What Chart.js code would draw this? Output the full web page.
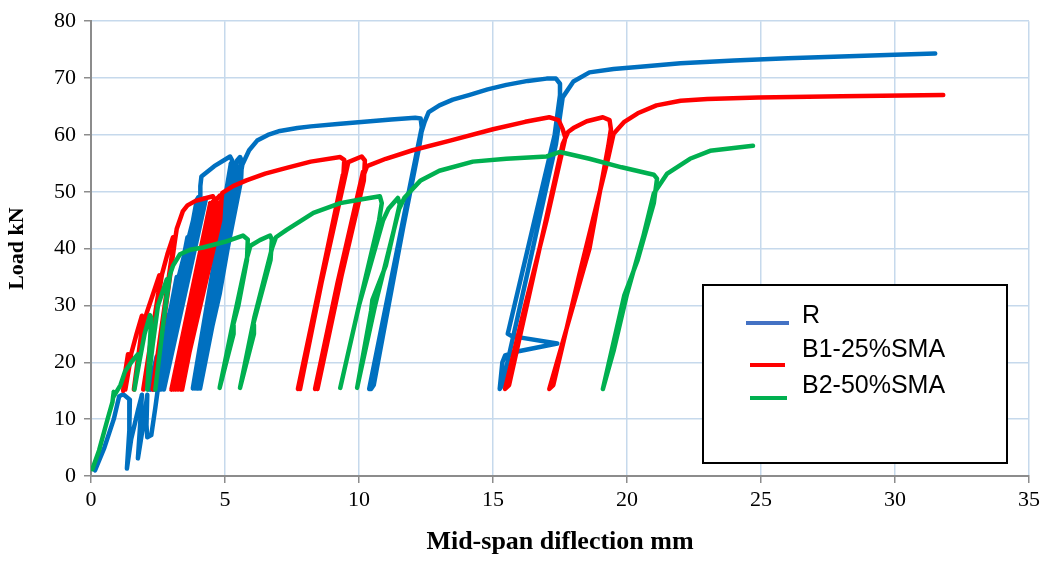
<!DOCTYPE html>
<html>
<head>
<meta charset="utf-8">
<script src="https://cdn.jsdelivr.net/npm/chart.js@4.4.1/dist/chart.umd.min.js"></script>
<style>
  body { margin: 0; background: #fff; }
  #wrap { width: 1046px; height: 562px; }
</style>
</head>
<body>
<div id="wrap"><canvas id="chart" width="1046" height="562"></canvas></div>
<script>
// series names
const seriesNames = ["R", "B1-25%SMA", "B2-50%SMA"];

// [deflection mm, load kN]
const rPoints = [
  [0.15,1],[0.5,5],[0.85,10],[1.05,14],[1.2,14.4],[1.45,13.4],[1.43,8],[1.34,1.3],
  [1.5,6.5],[1.75,11.5],[1.9,14.3],[1.82,8],[1.75,3.1],
  [1.95,9],[2.1,14.3],[2.07,9],[2.1,6.8],[2.25,7.2],[2.4,12],[2.5,15.5],
  [2.15,15.2],[2.45,21],[2.5,20.6],[2.3,15.2],[2.8,28],[2.85,27.6],[2.4,15.2],
  [3.2,35],[3.25,34.6],[2.5,15.2],[3.6,42],[3.65,41.6],[2.6,15.2],[3.3,32],
  [3.95,48.6],[4.0,49],[4.05,48.3],[2.2,15.2],[4.0,48.5],[2.35,15.2],[4.1,48.8],[2.5,15.2],
  [4.15,48.6],[2.62,15.2],[4.22,48.8],[2.72,15.2],[4.28,48.6],[2.55,15.2],[3.6,38],
  [4.07,49.2],[4.08,51],[4.12,52.7],[4.6,54.5],[5.19,56.2],[5.27,55.5],[5.2,52],
  [3.8,15.4],[5.22,55],[3.88,15.4],[5.3,55.2],[3.95,15.4],[4.5,32],[5.45,55.5],[5.56,56.1],
  [5.63,55.4],[5.6,52],[4.07,15.4],[5.55,54.5],[4.0,15.4],[4.8,32],
  [5.65,54.8],[5.9,57.3],[6.2,59],[6.6,60],[7.05,60.7],[7.7,61.2],[8.2,61.5],[9.2,61.9],
  [10.2,62.3],[11.2,62.7],[12.1,63],[12.3,62.9],[12.35,61],[12.25,58],[10.45,15.3],
  [10.55,16],[11.5,40],[12.3,60],[12.35,61.5],[12.2,58],[10.38,15.3],[10.5,16],[11.45,40],
  [12.3,60],[12.45,62.3],[12.6,64],[13.0,65.2],[13.5,66.2],[14.1,67],
  [14.8,68],[15.5,68.8],[16.3,69.5],[17.0,69.9],[17.35,69.9],[17.5,69],[17.5,67],[17.3,60],
  [16.5,44],[15.6,26],[15.55,25],[15.7,24.6],[17.4,23.3],[16.0,22],[15.45,21.2],[15.35,20],
  [15.25,15.3],[15.35,16],[16.3,36],[17.0,51],[17.35,58.4],[17.6,66.6],[18.0,69.4],[18.6,71],
  [19.5,71.6],[20.5,72],[22,72.6],[24,73.1],[26,73.5],[28,73.8],[30,74.1],[31.5,74.3]
];

const b1Points = [
  [1.2,15],[1.3,19],[1.38,21.4],[1.43,21],[1.28,15.2],[1.42,19],[1.5,21.5],[1.7,25],
  [1.9,28.2],[1.95,27.7],[1.6,15.2],[1.85,23],[2.0,27.5],[2.1,29],[2.35,32.5],[2.55,35.3],
  [2.6,34.8],[1.95,15.2],[2.3,25],[2.6,34],[2.65,35.5],[2.85,39],[3.06,42],[3.1,41.5],
  [2.3,15.2],[2.8,30],[3.12,41],[3.2,43.5],[3.43,46.6],[3.6,47.6],[3.9,48.4],[4.3,48.9],
  [4.55,49.2],[4.62,48.6],[4.55,45],[3.0,15.2],[4.45,48],[3.08,15.2],[4.55,48.3],[3.15,15.2],
  [3.8,33],[4.7,48.8],[4.8,49.3],[4.87,48.7],
  [4.82,45],[3.35,15.2],[4.75,48],[3.25,15.2],[4.7,47.8],[3.4,15.2],[4.1,32],[4.85,48],[4.9,49.8],[5.3,51],[5.8,52],[6.5,53.2],
  [7.3,54.2],[8.2,55.3],[9.3,56.1],[9.45,55.6],[9.42,53],[7.72,15.3],[8.6,35],[9.4,53],[7.8,15.3],[8.6,34],[9.6,55.2],
  [10.1,56.2],[10.22,55.5],[10.18,52],[8.36,15.3],[9.2,34],[10.15,53.5],[8.45,15.3],[9.25,33],[10.1,52],[10.3,54.5],[11.0,55.8],
  [12,57.3],[13.4,59],[15,61],[16.2,62.3],[17.1,63.1],[17.45,62.6],[17.6,61],[17.7,59.5],
  [17.0,45],[16.2,30],[15.45,15.3],[15.6,16],[16.5,35],[17.3,52],[17.6,58.4],[17.8,60.5],
  [18.0,61.2],[18.5,62.4],[19.1,63.1],[19.35,62.6],[19.4,61],[19.3,58],[18.6,40],[17.1,15.3],
  [17.25,16],[18.2,35],[19.3,56],[19.5,60.2],[19.9,62.3],[20.4,63.8],[21.1,65.2],[22,66],
  [23,66.3],[24.9,66.6],[28,66.8],[31.8,67]
];

const b2Points = [
  [0.05,1.2],[0.3,4.5],[0.63,10.2],[0.8,13],[0.85,14.8],[0.82,13.8],[0.95,14.8],[1.1,16],
  [1.27,18.4],[1.53,20.2],[1.75,21.4],[1.8,21],[1.62,15.2],[1.8,20],[2.0,25],[2.2,28.3],
  [2.25,27.8],[2.1,15.2],[2.3,23],[2.5,30],[2.83,34.6],[2.88,34],[2.4,15.2],[2.7,27],
  [2.95,35.5],[3.06,37],[3.32,39],[3.7,39.8],[4.18,40.2],[5.0,41.2],[5.67,42.3],[5.85,41.6],
  [5.82,38],[5.5,30],[5.3,26.5],[5.32,25],[4.8,15.5],[5.3,27],[5.8,38],[5.95,40.5],
  [6.3,41.5],[6.68,42.3],[6.75,41.6],[6.7,38],[6.3,31],[6.05,26.6],[6.08,25],[5.56,15.5],
  [6.1,28],[6.75,40],[6.9,42],[7.3,43.3],[8.3,46.3],[9.3,48],[10.0,48.6],[10.78,49.2],
  [10.85,48],[10.75,45],[10.0,30],[9.3,15.5],[10.0,30],[10.9,45],[11.1,47],[11.45,48.9],
  [11.52,47.8],[11.0,37],[10.5,31],[10.45,29],[9.93,15.5],[10.6,30],[11.5,47],[11.7,49],
  [12.3,52],[13.0,53.7],[14.25,55.3],[15.5,55.8],[17.0,56.2],[17.5,57],[18.6,55.8],[19.8,54.3],
  [21.0,53],[21.12,52.3],[21.0,48],[20.4,38],[19.9,31.8],[19.1,15.3],[19.5,22],[20.0,32],
  [20.6,42],[21.0,49.7],[21.5,53.2],[22.35,55.8],[23.1,57.2],[24.7,58.1]
];

const colors = ["#0070C0", "#FF0000", "#00B050"];
const legendColors = ["#4472C4", "#FF0000", "#00B050"];

const toXY = pts => pts.map(p => ({ x: p[0], y: p[1] }));

// boxed legend like the original
const boxLegend = {
  id: "boxLegend",
  afterDraw(chart) {
    const c = chart.ctx;
    c.save();
    c.fillStyle = "#fff";
    c.fillRect(703, 285, 304, 178);
    c.strokeStyle = "#000";
    c.lineWidth = 2;
    c.strokeRect(703, 285, 304, 178);
    const rows = [
      { ty: 316, ly: 323, x0: 746, x1: 789 },
      { ty: 350, ly: 365, x0: 750, x1: 785 },
      { ty: 386, ly: 398, x0: 750, x1: 787 }
    ];
    c.font = "25px 'Liberation Sans'";
    c.textBaseline = "middle";
    rows.forEach((r, i) => {
      c.strokeStyle = legendColors[i];
      c.lineWidth = 4;
      c.beginPath();
      c.moveTo(r.x0, r.ly);
      c.lineTo(r.x1, r.ly);
      c.stroke();
      c.fillStyle = "#000";
      c.fillText(seriesNames[i], 802, r.ty);
    });
    c.restore();
  }
};

const gridBlue = "#C6D9EC";
const axisGray = "#8C8C8C";

new Chart(document.getElementById("chart"), {
  type: "scatter",
  data: {
    datasets: [rPoints, b1Points, b2Points].map((pts, i) => ({
      label: seriesNames[i],
      data: toXY(pts),
      showLine: true,
      borderColor: colors[i],
      backgroundColor: colors[i],
      borderWidth: 4.5,
      pointRadius: 0,
      tension: 0,
      borderJoinStyle: "round",
      borderCapStyle: "round",
      order: 3 - i
    }))
  },
  options: {
    responsive: false,
    animation: false,
    layout: { padding: { left: 0, right: 17, top: 16, bottom: 0 } },
    plugins: { legend: { display: false }, tooltip: { enabled: false } },
    scales: {
      x: {
        type: "linear",
        min: 0, max: 35,
        ticks: { stepSize: 5, color: "#000", padding: 4, font: { family: "'Liberation Serif'", size: 22 } },
        grid: { color: gridBlue, lineWidth: 1.5, tickColor: axisGray, tickLength: 7 },
        border: { color: axisGray, width: 2 },
        title: { display: true, text: "Mid-span diflection mm", color: "#000", padding: { top: 15 },
                 font: { family: "'Liberation Serif'", size: 26, weight: "bold" } },
        afterFit: s => { s.height = 86; }
      },
      y: {
        min: 0, max: 80,
        ticks: { stepSize: 10, color: "#000", padding: 8, font: { family: "'Liberation Serif'", size: 22 } },
        grid: { color: gridBlue, lineWidth: 1.5, tickColor: axisGray, tickLength: 7 },
        border: { color: axisGray, width: 2 },
        title: { display: true, text: "Load kN", color: "#000", padding: { top: 4, bottom: 2 },
                 font: { family: "'Liberation Serif'", size: 22, weight: "bold" } },
        afterFit: s => { s.width = 91; }
      }
    }
  },
  plugins: [boxLegend]
});
</script>
</body>
</html>
